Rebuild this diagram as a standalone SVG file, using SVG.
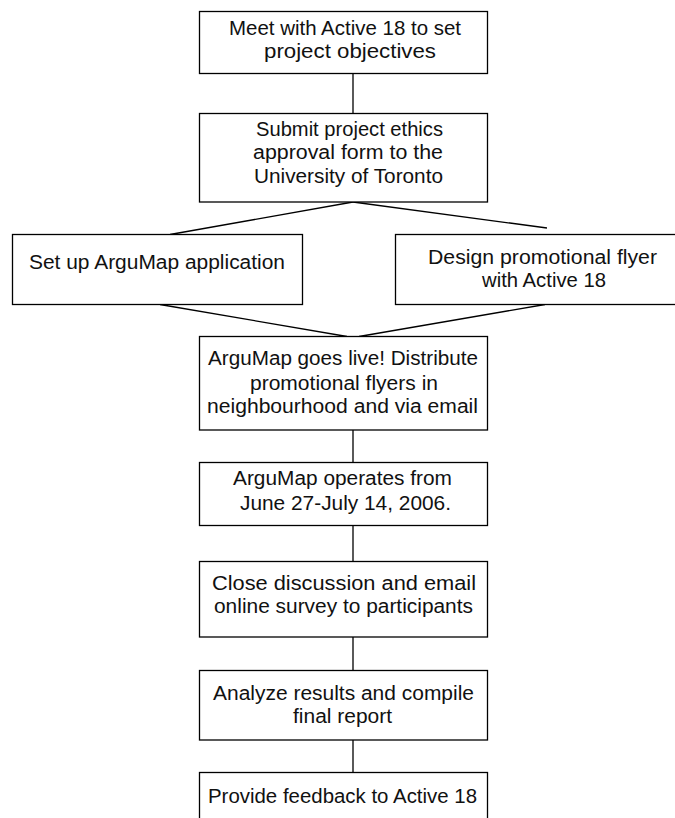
<svg xmlns="http://www.w3.org/2000/svg" width="675" height="818" viewBox="0 0 675 818">
<style>
.box{fill:#fff;stroke:#000;stroke-width:1.3}
.t{font-family:"Liberation Sans",Arial,sans-serif;font-size:20px;fill:#111}
.c{fill:none;stroke:#000;stroke-width:1.3}
</style>
<rect width="675" height="818" fill="#fff"/>
<g id="connectors">
<line class="c" x1="353" y1="73.5" x2="353" y2="113.5"/>
<line class="c" x1="353" y1="202" x2="170" y2="234.5"/>
<line class="c" x1="353" y1="202" x2="547" y2="228"/>
<line class="c" x1="160" y1="304.5" x2="347" y2="336.5"/>
<line class="c" x1="545" y1="304.5" x2="359" y2="336.5"/>
<line class="c" x1="353" y1="430" x2="353" y2="462.5"/>
<line class="c" x1="353" y1="525.5" x2="353" y2="561.5"/>
<line class="c" x1="353" y1="637" x2="353" y2="670.5"/>
<line class="c" x1="353" y1="740" x2="353" y2="772.5"/>
</g>
<g id="n1">
<rect class="box" x="199.5" y="11.5" width="288" height="62"/>
<text class="t" x="229" y="35" textLength="232" lengthAdjust="spacingAndGlyphs">Meet with Active 18 to set</text>
<text class="t" x="264" y="58" textLength="172" lengthAdjust="spacingAndGlyphs">project objectives</text>
</g>
<g id="n2">
<rect class="box" x="199.5" y="113.5" width="288" height="88.5"/>
<text class="t" x="256" y="136" textLength="187" lengthAdjust="spacingAndGlyphs">Submit project ethics</text>
<text class="t" x="253" y="159" textLength="190" lengthAdjust="spacingAndGlyphs">approval form to the</text>
<text class="t" x="254" y="183" textLength="189" lengthAdjust="spacingAndGlyphs">University of Toronto</text>
</g>
<g id="n3">
<rect class="box" x="12.5" y="234.5" width="290" height="70"/>
<text class="t" x="29" y="269" textLength="256" lengthAdjust="spacingAndGlyphs">Set up ArguMap application</text>
</g>
<g id="n4">
<rect class="box" x="395.5" y="234.5" width="300" height="70"/>
<text class="t" x="428" y="264" textLength="229" lengthAdjust="spacingAndGlyphs">Design promotional flyer</text>
<text class="t" x="482" y="287" textLength="124" lengthAdjust="spacingAndGlyphs">with Active 18</text>
</g>
<g id="n5">
<rect class="box" x="199.5" y="336.5" width="288" height="93.5"/>
<text class="t" x="208" y="365" textLength="270" lengthAdjust="spacingAndGlyphs">ArguMap goes live! Distribute</text>
<text class="t" x="250" y="390" textLength="188" lengthAdjust="spacingAndGlyphs">promotional flyers in</text>
<text class="t" x="207" y="413" textLength="271" lengthAdjust="spacingAndGlyphs">neighbourhood and via email</text>
</g>
<g id="n6">
<rect class="box" x="199.5" y="462.5" width="288" height="63"/>
<text class="t" x="233" y="485" textLength="219" lengthAdjust="spacingAndGlyphs">ArguMap operates from</text>
<text class="t" x="240" y="510" textLength="211" lengthAdjust="spacingAndGlyphs">June 27-July 14, 2006.</text>
</g>
<g id="n7">
<rect class="box" x="199.5" y="561.5" width="288" height="75.5"/>
<text class="t" x="212" y="590" textLength="264" lengthAdjust="spacingAndGlyphs">Close discussion and email</text>
<text class="t" x="214" y="613" textLength="259" lengthAdjust="spacingAndGlyphs">online survey to participants</text>
</g>
<g id="n8">
<rect class="box" x="199.5" y="670.5" width="288" height="69.5"/>
<text class="t" x="213" y="700" textLength="261" lengthAdjust="spacingAndGlyphs">Analyze results and compile</text>
<text class="t" x="293" y="723" textLength="99" lengthAdjust="spacingAndGlyphs">final report</text>
</g>
<g id="n9">
<rect class="box" x="199.5" y="772.5" width="288" height="60"/>
<text class="t" x="208" y="803" textLength="269" lengthAdjust="spacingAndGlyphs">Provide feedback to Active 18</text>
</g>
</svg>
